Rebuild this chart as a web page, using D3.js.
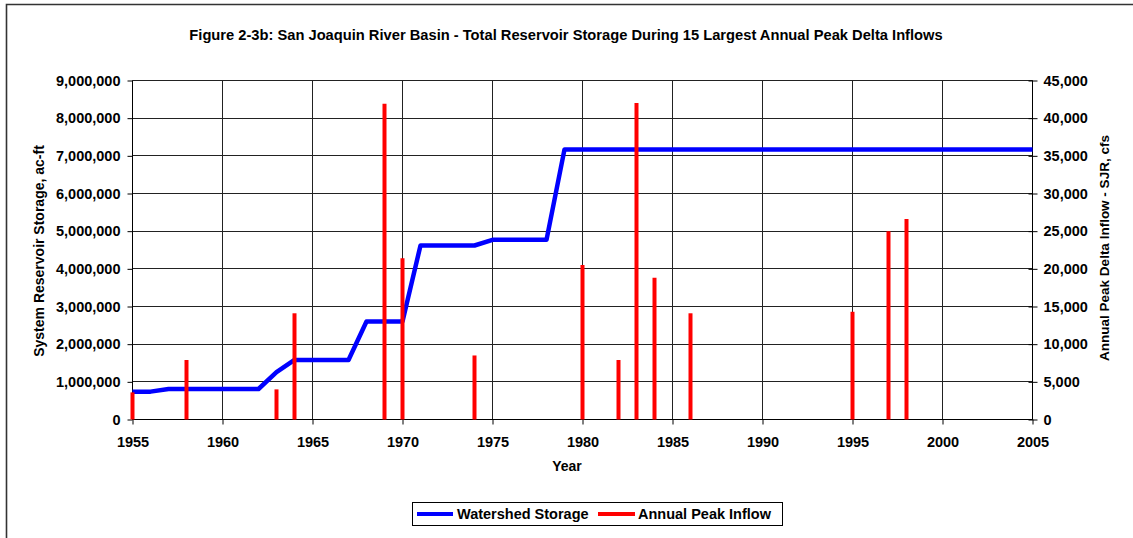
<!DOCTYPE html>
<html>
<head>
<meta charset="utf-8">
<script src="https://cdn.jsdelivr.net/npm/d3@7"></script>
<style>
  html, body { margin: 0; padding: 0; background: #fff; }
  svg { display: block; }
  text { font-family: "Liberation Sans", Arial, sans-serif; font-weight: bold; fill: #000; }
</style>
</head>
<body>
<svg id="chart" width="1133" height="538"></svg>
<script>
// ---- Data ----
const storageYears = [1955, 1956, 1957, 1962, 1963, 1964, 1967, 1968, 1970, 1971, 1974, 1975, 1978, 1979, 2005];
const storageValues = [740000, 740000, 810000, 810000, 1260000, 1580000, 1580000, 2600000, 2600000, 4620000, 4620000, 4770000, 4770000, 7170000, 7170000];
const peakYears = [1955, 1958, 1963, 1964, 1969, 1970, 1974, 1980, 1982, 1983, 1984, 1986, 1995, 1997, 1998];
const peakInflows = [3600, 7900, 4000, 14100, 41900, 21400, 8500, 20500, 7900, 42000, 18800, 14100, 14300, 25000, 26600];
const xTicks = [1955, 1960, 1965, 1970, 1975, 1980, 1985, 1990, 1995, 2000, 2005];
const leftTicks = [0, 1000000, 2000000, 3000000, 4000000, 5000000, 6000000, 7000000, 8000000, 9000000];
const rightTicks = [0, 5000, 10000, 15000, 20000, 25000, 30000, 35000, 40000, 45000];
const titleText = "Figure 2-3b: San Joaquin River Basin - Total Reservoir Storage During 15 Largest Annual Peak Delta Inflows";
const seriesNames = ["Watershed Storage", "Annual Peak Inflow"];
const seriesColors = ["#0000ff", "#ff0000"];

// ---- Layout ----
const svg = d3.select("#chart");
const plot = { left: 132.5, right: 1032.5, top: 80.5, bottom: 419.5 };

const x = d3.scaleLinear().domain([1955, 2005]).range([plot.left, plot.right]);
const yL = d3.scaleLinear().domain([0, 9000000]).range([plot.bottom, plot.top]);
const yR = d3.scaleLinear().domain([0, 45000]).range([plot.bottom, plot.top]);
const fmt = d3.format(",");

// outer frame (only top and left visible)
svg.append("path")
  .attr("d", `M6.5,540 L6.5,4.5 L1135,4.5`)
  .attr("fill", "none").attr("stroke", "#333").attr("stroke-width", 1.6);

// title
svg.append("text")
  .attr("x", 566).attr("y", 40)
  .attr("text-anchor", "middle")
  .style("font-size", "14.7px")
  .text(titleText);

// gridlines
const grid = svg.append("g");
grid.selectAll("line.h").data(leftTicks).join("line")
  .attr("x1", plot.left).attr("x2", plot.right)
  .attr("y1", d => Math.round(yL(d) - 0.5) + 0.5).attr("y2", d => Math.round(yL(d) - 0.5) + 0.5)
  .attr("stroke", "#222").attr("stroke-width", 1);
grid.selectAll("line.v").data(xTicks).join("line")
  .attr("x1", d => x(d)).attr("x2", d => x(d))
  .attr("y1", plot.top).attr("y2", plot.bottom)
  .attr("stroke", "#222").attr("stroke-width", 1);

// axes
const axL = d3.axisLeft(yL).tickValues(leftTicks).tickFormat(fmt).tickSize(5).tickPadding(7);
const axR = d3.axisRight(yR).tickValues(rightTicks).tickFormat(fmt).tickSize(5).tickPadding(6);
const axB = d3.axisBottom(x).tickValues(xTicks).tickFormat(d3.format("d")).tickSize(5).tickPadding(12);

function styleAxis(g) {
  g.select(".domain").attr("stroke", "#000");
  g.selectAll(".tick line").attr("stroke", "#000");
  g.selectAll("text").style("font-size", "14.5px").style("font-family", "'Liberation Sans', Arial, sans-serif").style("font-weight", "bold").attr("fill", "#000");
}
svg.append("g").attr("transform", `translate(${plot.left},0)`).call(axL).call(styleAxis)
  .call(g => g.select(".domain").attr("d", `M0,${plot.top}V${plot.bottom}`));
svg.append("g").attr("transform", `translate(${plot.right},0)`).call(axR).call(styleAxis)
  .call(g => g.select(".domain").attr("d", `M0,${plot.top}V${plot.bottom}`))
  .call(g => g.selectAll(".tick line").attr("x1", -4));
svg.append("g").attr("transform", `translate(0,${plot.bottom})`).call(axB).call(styleAxis)
  .call(g => g.select(".domain").attr("d", `M${plot.left},0H${plot.right}`));

// storage line
const line = d3.line().x((d, i) => x(storageYears[i])).y(d => yL(d));
svg.append("path")
  .datum(storageValues)
  .attr("d", line)
  .attr("fill", "none").attr("stroke", seriesColors[0]).attr("stroke-width", 4.5)
  .attr("stroke-linejoin", "round");

// peak inflow bars (drawn as thick vertical lines)
svg.append("g").selectAll("line").data(peakInflows).join("line")
  .attr("x1", (d, i) => x(peakYears[i])).attr("x2", (d, i) => x(peakYears[i]))
  .attr("y1", yR(0)).attr("y2", d => yR(d))
  .attr("stroke", seriesColors[1]).attr("stroke-width", 4);

// axis titles
svg.append("text")
  .attr("transform", `translate(44,251) rotate(-90)`)
  .attr("text-anchor", "middle")
  .style("font-size", "14px")
  .text("System Reservoir Storage, ac-ft");
svg.append("text")
  .attr("transform", `translate(1109,248) rotate(-90)`)
  .attr("text-anchor", "middle")
  .style("font-size", "13.5px")
  .text("Annual Peak Delta Inflow - SJR, cfs");
svg.append("text")
  .attr("x", 567).attr("y", 471)
  .attr("text-anchor", "middle")
  .style("font-size", "14px")
  .text("Year");

// legend
const leg = svg.append("g");
leg.append("rect").attr("x", 412.5).attr("y", 502.5).attr("width", 370).attr("height", 23)
  .attr("fill", "#fff").attr("stroke", "#000").attr("stroke-width", 1);
const legItems = [
  { name: seriesNames[0], color: seriesColors[0], x0: 417, x1: 453, tx: 457 },
  { name: seriesNames[1], color: seriesColors[1], x0: 598, x1: 635, tx: 638 }
];
legItems.forEach(it => {
  leg.append("line").attr("x1", it.x0).attr("x2", it.x1).attr("y1", 514).attr("y2", 514)
    .attr("stroke", it.color).attr("stroke-width", 4);
  leg.append("text").attr("x", it.tx).attr("y", 519).style("font-size", "14.5px").text(it.name);
});
</script>
</body>
</html>
